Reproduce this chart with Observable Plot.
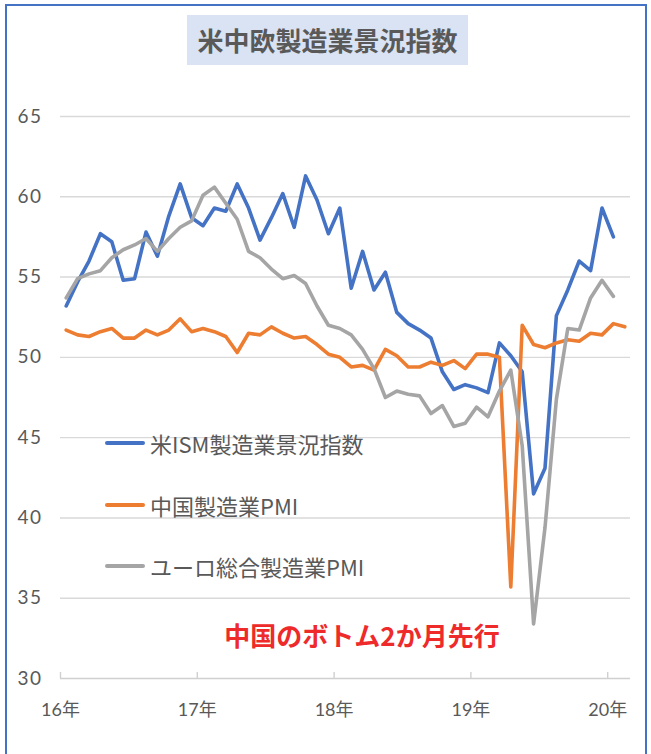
<!DOCTYPE html>
<html>
<head>
<meta charset="utf-8">
<script src="https://cdn.jsdelivr.net/npm/d3@7"></script>
<script src="https://cdn.jsdelivr.net/npm/@observablehq/plot@0.6"></script>
<style>
  html, body { margin: 0; padding: 0; background: #fff; }
  body { width: 651px; height: 754px; position: relative; overflow: hidden; font-family: 'Noto Sans CJK JP', sans-serif; }
  #frame { position: absolute; left: 5px; top: 4px; width: 642px; height: 780px; border: 2px solid #4472C4; box-sizing: border-box; pointer-events: none; }
  #title { position: absolute; left: 187px; top: 15px; width: 281px; height: 50px; background: #DAE3F3; color: #595959; font-size: 26px; font-weight: 700; line-height: 50px; text-align: center; }
  #chart { position: absolute; left: 0; top: 0; }
  #chart svg g[aria-label="y-axis tick label"] text { letter-spacing: 1.5px; }
  .leg { position: absolute; left: 105px; height: 30px; display: flex; align-items: center; color: #595959; font-size: 22px; }
  .leg span.sw { display: inline-block; width: 40px; height: 4px; border-radius: 2px; margin-right: 5px; }
  #note { position: absolute; left: 210px; top: 616px; width: 304px; text-align: center; color: #EE2A2A; font-weight: 700; font-size: 26px; line-height: 38px; }
</style>
</head>
<body>
<div id="chart"></div>
<div id="title">米中欧製造業景況指数</div>
<div id="legend"></div>
<div id="note">中国のボトム2か月先行</div>
<div id="frame"></div>
<script>
// Monthly values, first month = "16年" January on the chart's axis
const seriesNames = ["米ISM製造業景況指数", "中国製造業PMI", "ユーロ総合製造業PMI"];
const seriesColors = ["#4472C4", "#ED7D31", "#A5A5A5"];

const ism = [53.2, 54.7, 56.0, 57.7, 57.2, 54.8, 54.9, 57.8, 56.3, 58.8, 60.8, 58.7,
             58.2, 59.3, 59.1, 60.8, 59.3, 57.3, 58.7, 60.2, 58.1, 61.3, 59.8, 57.7,
             59.3, 54.3, 56.6, 54.2, 55.3, 52.8, 52.1, 51.7, 51.2, 49.1, 48.0, 48.3,
             48.1, 47.8, 50.9, 50.1, 49.1, 41.5, 43.1, 52.6, 54.2, 56.0, 55.4, 59.3,
             57.5];
const china = [51.7, 51.4, 51.3, 51.6, 51.8, 51.2, 51.2, 51.7, 51.4, 51.7, 52.4, 51.6,
               51.8, 51.6, 51.3, 50.3, 51.5, 51.4, 51.9, 51.5, 51.2, 51.3, 50.8, 50.2,
               50.0, 49.4, 49.5, 49.2, 50.5, 50.1, 49.4, 49.4, 49.7, 49.5, 49.8, 49.3,
               50.2, 50.2, 50.0, 35.7, 52.0, 50.8, 50.6, 50.9, 51.1, 51.0, 51.5, 51.4,
               52.1, 51.9];
const euro = [53.7, 54.9, 55.2, 55.4, 56.2, 56.7, 57.0, 57.4, 56.6, 57.4, 58.1, 58.5,
              60.1, 60.6, 59.6, 58.6, 56.6, 56.2, 55.5, 54.9, 55.1, 54.6, 53.2, 52.0,
              51.8, 51.4, 50.5, 49.3, 47.5, 47.9, 47.7, 47.6, 46.5, 47.0, 45.7, 45.9,
              46.9, 46.3, 47.9, 49.2, 44.5, 33.4, 39.4, 47.4, 51.8, 51.7, 53.7, 54.8,
              53.8];

const yearLabels = ["16年", "17年", "18年", "19年", "20年"];
const yTicks = [30, 35, 40, 45, 50, 55, 60, 65];
const monthsShown = 50; // category slots on the axis

const rows = [];
[ism, china, euro].forEach((arr, s) => arr.forEach((v, i) => rows.push({series: seriesNames[s], i, v})));
const yearTicks = yearLabels.map((_, k) => k * 12);

const plot = Plot.plot({
  width: 651,
  height: 754,
  marginLeft: 60,
  marginRight: 21,
  marginTop: 116,
  marginBottom: 76,
  style: { fontFamily: "Lato, 'Noto Sans CJK JP', sans-serif", color: "#595959", background: "transparent", overflow: "visible" },
  x: { type: "linear", domain: [0, monthsShown], label: null },
  y: { domain: [30, 65], label: null },
  color: { domain: seriesNames, range: seriesColors },
  marks: [
    Plot.gridY(yTicks.slice(1), { stroke: "#D9D9D9", strokeOpacity: 1, strokeWidth: 1.4 }),
    Plot.ruleY([30], { stroke: "#D0D0D0", strokeWidth: 1.4 }),
    Plot.axisX({ ticks: yearTicks, tickSize: 6, dy: -6, tickFormat: () => "", label: null, stroke: "#D0D0D0", strokeWidth: 1.4 }),
    Plot.axisX({ ticks: yearTicks, tickSize: 0, tickPadding: 25, tickFormat: d => yearLabels[d / 12], label: null, fontSize: 18 }),
    Plot.axisY({ ticks: yTicks, tickSize: 0, tickPadding: 43, textAnchor: "start", label: null, fontSize: 19 }),
    Plot.line(rows, { x: d => d.i + 0.5, y: "v", z: "series", stroke: "series", strokeWidth: 3.6, strokeLinejoin: "round", strokeLinecap: "round" })
  ]
});
document.getElementById("chart").appendChild(plot);

// legend (HTML)
const legendTops = [428, 490, 551];
const leg = document.getElementById("legend");
seriesNames.forEach((n, k) => {
  const d = document.createElement("div");
  d.className = "leg";
  d.style.top = legendTops[k] + "px";
  d.innerHTML = `<span class="sw" style="background:${seriesColors[k]}"></span><span>${n}</span>`;
  leg.appendChild(d);
});
</script>
</body>
</html>
